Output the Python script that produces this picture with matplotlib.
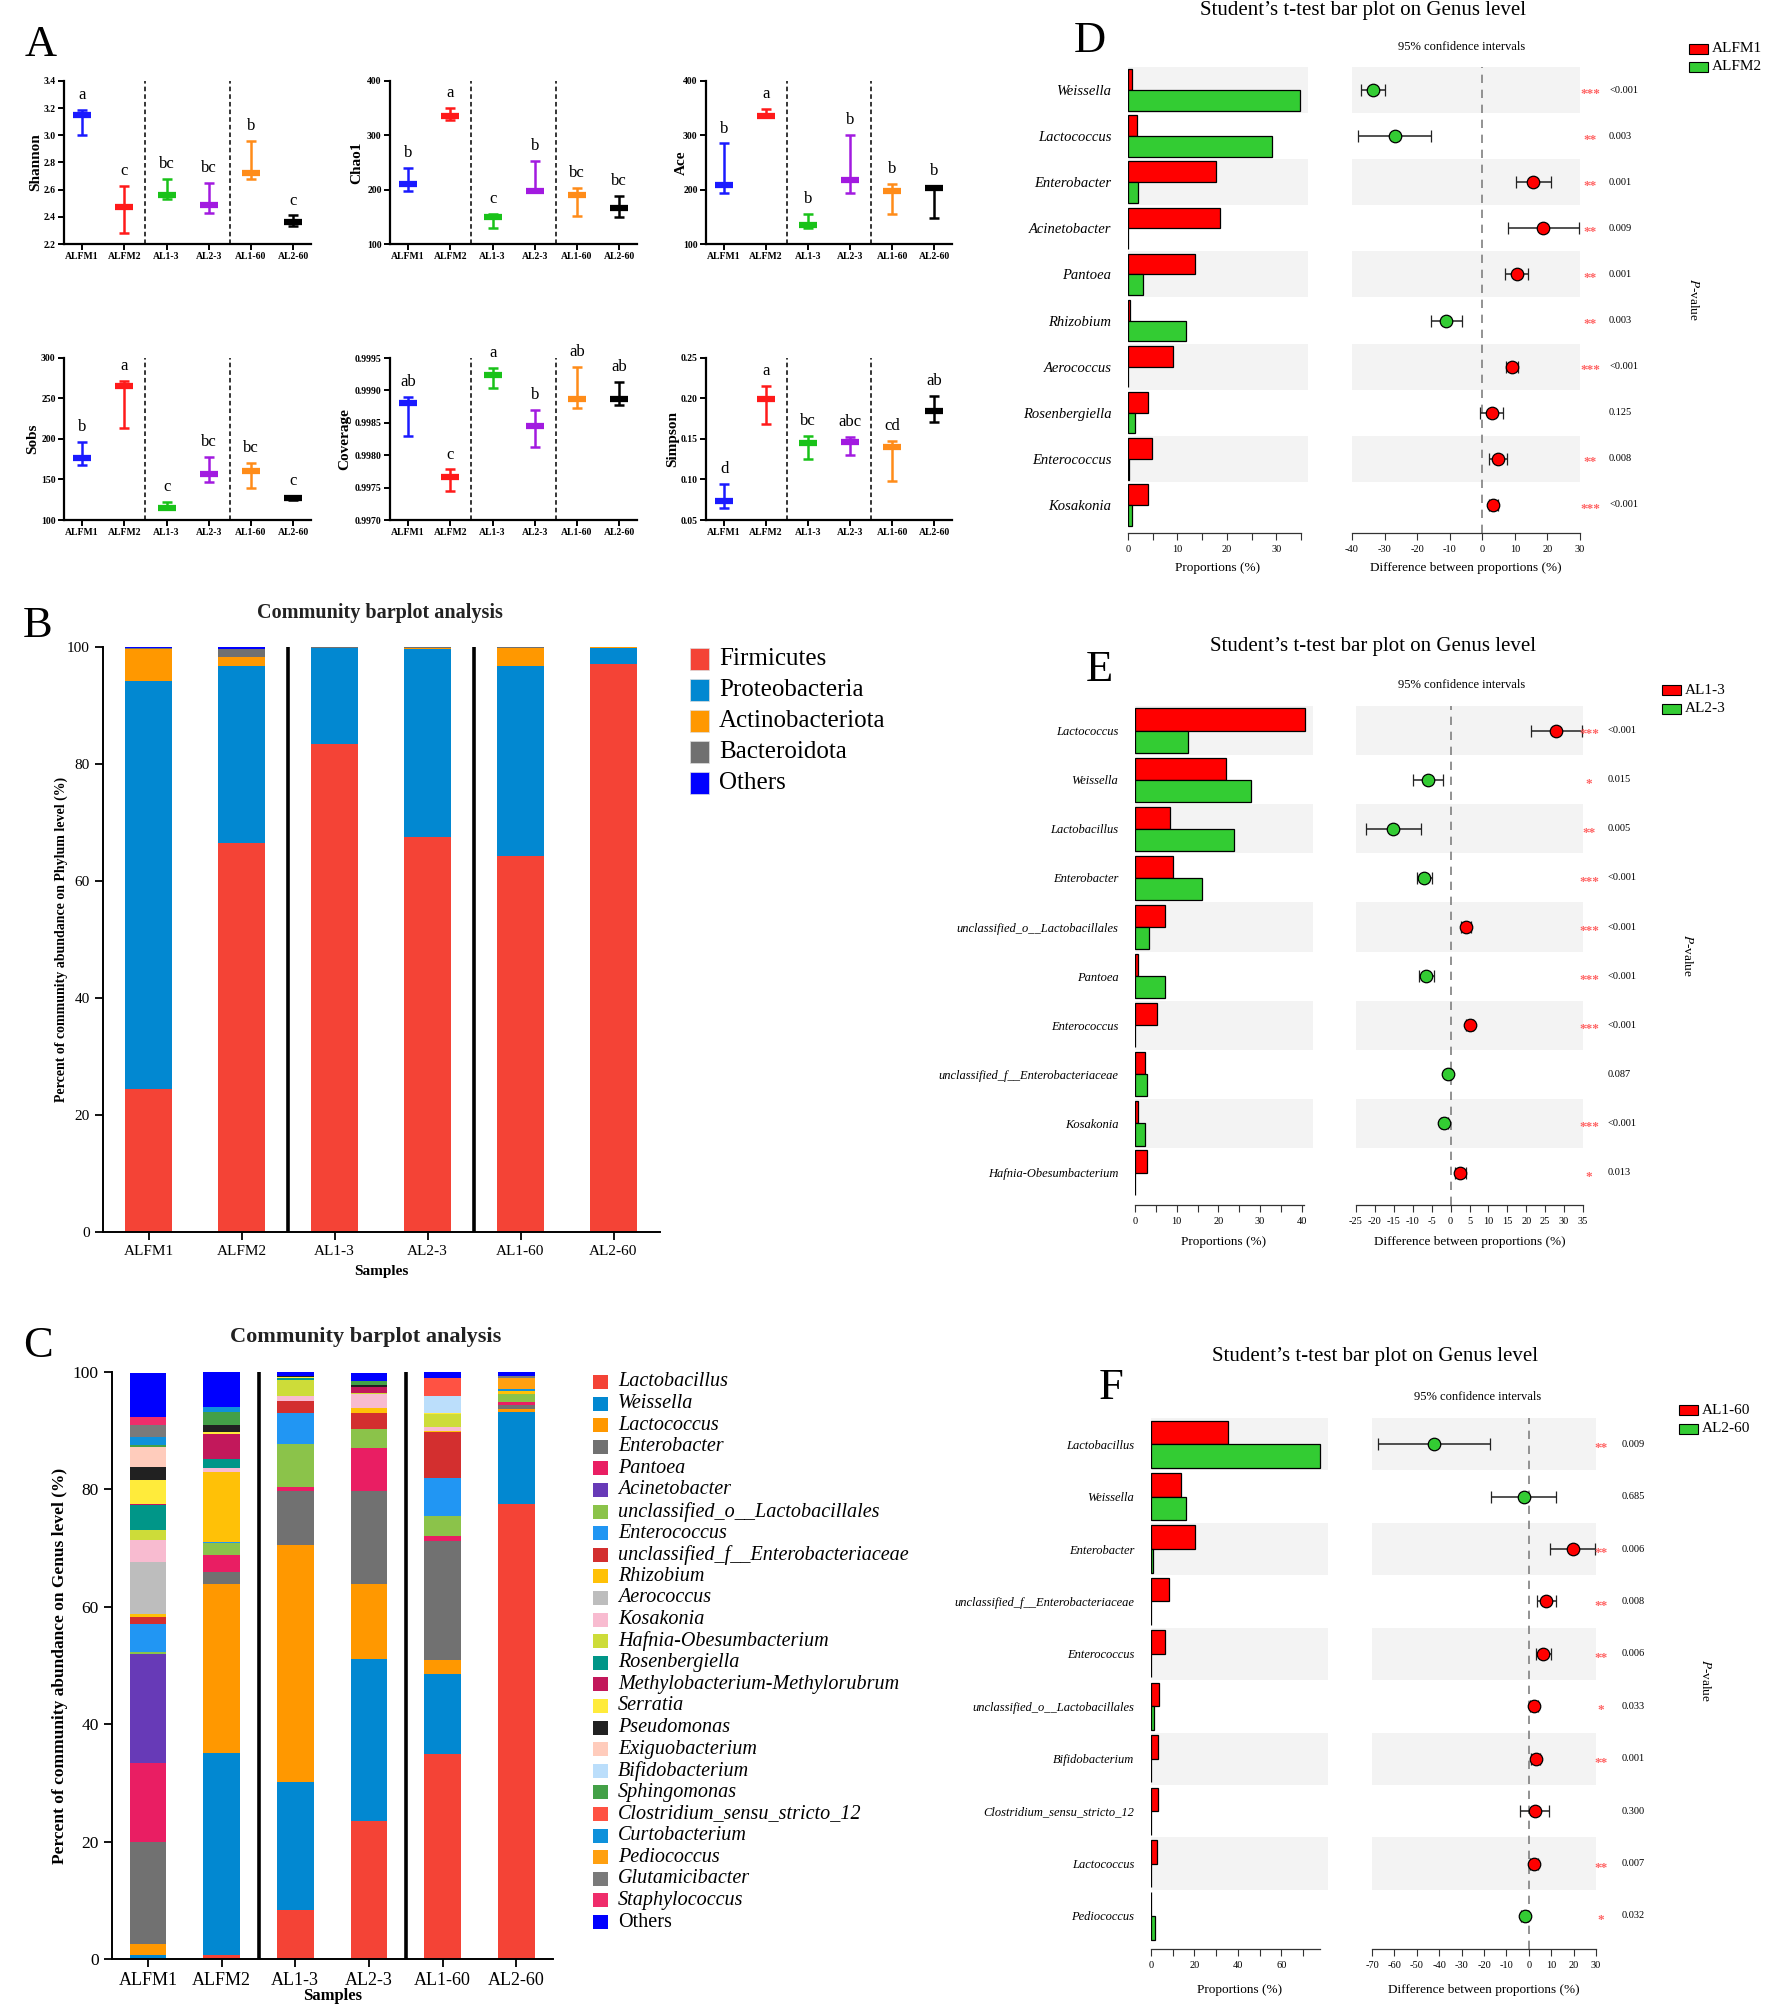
import numpy as np
import matplotlib
matplotlib.use("Agg")
import matplotlib.pyplot as plt
from matplotlib.patches import Rectangle
from matplotlib.transforms import blended_transform_factory

plt.rcParams['font.family'] = ['Liberation Serif', 'DejaVu Serif']
plt.rcParams['mathtext.fontset'] = 'stix'
plt.rcParams['axes.unicode_minus'] = False

W, H = 1777, 2010

# ---------------- data: panel A (alpha diversity) ----------------
samples = ['ALFM1', 'ALFM2', 'AL1-3', 'AL2-3', 'AL1-60', 'AL2-60']
group_colors = ['#1a1aff', '#ff1a1a', '#19c219', '#a21ae0', '#ff8c19', '#000000']

shannon_mid = [3.15, 2.47, 2.56, 2.49, 2.72, 2.36]
shannon_low = [3.00, 2.28, 2.53, 2.43, 2.68, 2.33]
shannon_high = [3.19, 2.63, 2.68, 2.65, 2.96, 2.41]
shannon_letters = ['a', 'c', 'bc', 'bc', 'b', 'c']

chao1_mid = [210, 335, 150, 198, 190, 167]
chao1_low = [197, 328, 130, 197, 152, 150]
chao1_high = [240, 350, 155, 252, 203, 188]
chao1_letters = ['b', 'a', 'c', 'b', 'bc', 'bc']

ace_mid = [208, 335, 135, 218, 198, 203]
ace_low = [193, 333, 130, 193, 155, 147]
ace_high = [285, 348, 155, 300, 210, 207]
ace_letters = ['b', 'a', 'b', 'b', 'b', 'b']

sobs_mid = [176, 265, 115, 157, 161, 127]
sobs_low = [168, 214, 113, 147, 139, 125]
sobs_high = [196, 272, 122, 178, 170, 130]
sobs_letters = ['b', 'a', 'c', 'bc', 'bc', 'c']

coverage_mid = [0.99880, 0.99767, 0.99923, 0.99845, 0.99887, 0.99887]
coverage_low = [0.99830, 0.99745, 0.99903, 0.99812, 0.99873, 0.99878]
coverage_high = [0.99890, 0.99778, 0.99934, 0.99870, 0.99936, 0.99913]
coverage_letters = ['ab', 'c', 'a', 'b', 'ab', 'ab']

simpson_mid = [0.074, 0.199, 0.145, 0.146, 0.140, 0.184]
simpson_low = [0.065, 0.169, 0.125, 0.130, 0.098, 0.171]
simpson_high = [0.095, 0.216, 0.154, 0.153, 0.148, 0.203]
simpson_letters = ['d', 'a', 'bc', 'abc', 'cd', 'ab']

# ---------------- data: panel B (phylum) ----------------
phyla = ['Firmicutes', 'Proteobacteria', 'Actinobacteriota', 'Bacteroidota', 'Others']
phylum_colors = ['#f44336', '#0288d1', '#ff9800', '#707070', '#0000ff']
firmicutes = [24.5, 66.5, 83.5, 67.5, 64.2, 97.1]
proteobacteria = [69.7, 30.2, 16.3, 32.2, 32.6, 2.7]
actinobacteriota = [5.4, 1.6, 0.1, 0.05, 3.1, 0.15]
bacteroidota = [0.3, 1.4, 0.05, 0.2, 0.05, 0.0]
phylum_others = [0.1, 0.3, 0.05, 0.05, 0.05, 0.05]

# ---------------- data: panel C (genus) ----------------
genera = ['Lactobacillus', 'Weissella', 'Lactococcus', 'Enterobacter', 'Pantoea',
          'Acinetobacter', 'unclassified_o__Lactobacillales', 'Enterococcus',
          'unclassified_f__Enterobacteriaceae', 'Rhizobium', 'Aerococcus', 'Kosakonia',
          'Hafnia-Obesumbacterium', 'Rosenbergiella', 'Methylobacterium-Methylorubrum',
          'Serratia', 'Pseudomonas', 'Exiguobacterium', 'Bifidobacterium', 'Sphingomonas',
          'Clostridium_sensu_stricto_12', 'Curtobacterium', 'Pediococcus',
          'Glutamicibacter', 'Staphylococcus', 'Others']
genus_colors = ['#f44336', '#0288d1', '#ff9800', '#717171', '#e91e63', '#673ab7',
                '#8bc34a', '#2196f3', '#d32f2f', '#ffc107', '#bdbdbd', '#f8bbd0',
                '#cddc39', '#009688', '#c2185b', '#ffeb3b', '#212121', '#ffccbc',
                '#bbdefb', '#43a047', '#ff5243', '#0e91db', '#ffa010', '#7a7a7a',
                '#ef2d6b', '#0000ff']
alfm1_genus = [0, 0.7, 1.8, 17.5, 13.4, 18.6, 0.3, 4.7, 1.3, 0.5, 8.8, 3.8, 1.7, 4.2, 0.2,
               4.1, 2.2, 3.4, 0, 0.3, 0, 1.4, 0, 2.1, 1.3, 7.6]
alfm2_genus = [0.7, 34.4, 28.8, 2.0, 2.9, 0, 2.0, 0.3, 0, 11.8, 0, 0.8, 0, 1.5, 4.3,
               0.2, 1.3, 0, 0, 2.2, 0, 0.8, 0, 0, 0, 6.1]
al1_3_genus = [8.3, 21.8, 40.5, 9.2, 0.6, 0, 7.4, 5.2, 2.1, 0, 0, 0.8, 2.8, 0.2, 0,
               0.3, 0.1, 0, 0, 0, 0, 0, 0, 0, 0, 0.7]
al2_3_genus = [23.5, 27.6, 12.7, 16.0, 7.2, 0, 3.3, 0, 2.7, 0.8, 0, 2.4, 0.3, 0, 1.0,
               0, 0.3, 0, 0, 0.6, 0, 0, 0, 0, 0, 1.5]
al1_60_genus = [35.0, 13.6, 2.3, 20.3, 0.8, 0, 3.5, 6.4, 7.9, 0.2, 0, 0.7, 2.1, 0, 0,
                0.2, 0, 0, 2.9, 0, 3.0, 0, 0, 0, 0, 1.2]
al2_60_genus = [77.5, 15.7, 0.5, 0.7, 0.5, 0, 1.4, 0, 0, 0.4, 0, 0, 0, 0, 0,
                0, 0, 0, 0, 0, 0, 0.35, 1.9, 0.4, 0, 0.6]

# ---------------- data: panels D, E, F (t-tests) ----------------
d_genera = ['Weissella', 'Lactococcus', 'Enterobacter', 'Acinetobacter', 'Pantoea',
            'Rhizobium', 'Aerococcus', 'Rosenbergiella', 'Enterococcus', 'Kosakonia']
d_group1 = [0.75, 1.9, 17.7, 18.7, 13.5, 0.5, 9.0, 4.1, 4.8, 4.0]
d_group2 = [34.7, 29.1, 2.0, 0.05, 3.0, 11.8, 0.05, 1.4, 0.3, 0.75]
d_diff = [-33.6, -26.9, 15.7, 18.7, 10.6, -11.0, 9.0, 2.9, 4.7, 3.3]
d_low = [-37.1, -38.1, 10.3, 7.9, 7.1, -15.7, 7.3, -0.7, 2.1, 2.0]
d_high = [-30.0, -15.6, 21.1, 29.6, 14.0, -6.3, 10.9, 6.4, 7.6, 4.7]
d_stars = ['***', '**', '**', '**', '**', '**', '***', '', '**', '***']
d_pvals = ['<0.001', '0.003', '0.001', '0.009', '0.001', '0.003', '<0.001', '0.125', '0.008', '<0.001']

e_genera = ['Lactococcus', 'Weissella', 'Lactobacillus', 'Enterobacter',
            'unclassified_o__Lactobacillales', 'Pantoea', 'Enterococcus',
            'unclassified_f__Enterobacteriaceae', 'Kosakonia', 'Hafnia-Obesumbacterium']
e_group1 = [40.7, 21.8, 8.5, 9.1, 7.3, 0.7, 5.3, 2.3, 0.8, 2.9]
e_group2 = [12.7, 27.8, 23.7, 16.1, 3.3, 7.2, 0.05, 2.8, 2.4, 0.05]
e_diff = [27.9, -6.0, -15.2, -7.1, 4.0, -6.5, 5.0, -0.6, -1.7, 2.4]
e_low = [21.3, -10.0, -22.4, -8.9, 2.7, -8.4, 4.2, -1.3, -2.6, 1.1]
e_high = [34.8, -2.0, -7.8, -5.0, 5.3, -4.5, 5.9, 0.0, -0.7, 4.2]
e_stars = ['***', '*', '**', '***', '***', '***', '***', '', '***', '*']
e_pvals = ['<0.001', '0.015', '0.005', '<0.001', '<0.001', '<0.001', '<0.001', '0.087', '<0.001', '0.013']

f_genera = ['Lactobacillus', 'Weissella', 'Enterobacter', 'unclassified_f__Enterobacteriaceae',
            'Enterococcus', 'unclassified_o__Lactobacillales', 'Bifidobacterium',
            'Clostridium_sensu_stricto_12', 'Lactococcus', 'Pediococcus']
f_group1 = [35.5, 13.8, 20.4, 8.2, 6.5, 3.7, 3.4, 3.0, 2.6, 0.05]
f_group2 = [77.6, 15.9, 0.9, 0.05, 0.05, 1.5, 0.05, 0.05, 0.1, 1.9]
f_diff = [-42.5, -2.3, 19.6, 7.9, 6.5, 2.1, 3.1, 2.9, 2.1, -1.9]
f_low = [-67.1, -16.7, 9.4, 3.5, 3.3, 0.4, 1.2, -3.8, 0.6, -3.5]
f_high = [-17.5, 12.3, 29.6, 12.3, 9.8, 4.0, 5.0, 9.2, 4.0, -0.2]
f_stars = ['**', '', '**', '**', '**', '*', '**', '', '**', '*']
f_pvals = ['0.009', '0.685', '0.006', '0.008', '0.006', '0.033', '0.001', '0.300', '0.007', '0.032']

fig = plt.figure(figsize=(W / 100, H / 100), dpi=100)


def rect(left, right, top, bottom):
    return [left / W, 1 - bottom / H, (right - left) / W, (bottom - top) / H]


def fxy(x, y):
    return x / W, 1 - y / H


def letter(x, y, s):
    fig.text(*fxy(x, y), s, fontsize=32, ha='center', va='center')


# ---------------- panel A ----------------
def draw_alpha(box, label_x, ylabel, mid, low, high, letters, ylim, step, fmt):
    ax = fig.add_axes(rect(*box))
    x = np.arange(len(samples))
    for i in range(len(samples)):
        c = group_colors[i]
        ax.errorbar(x[i], mid[i], yerr=[[mid[i] - low[i]], [high[i] - mid[i]]], fmt='none',
                    ecolor=c, elinewidth=1.8, capsize=3.8, capthick=1.8)
        ax.plot(x[i], mid[i], marker='_', ms=13, mew=4.5, color=c)
        ax.annotate(letters[i], (x[i], high[i]), xytext=(0, 5), textcoords='offset points',
                    ha='center', va='bottom', fontsize=12)
    for s in (1.5, 3.5):
        ax.axvline(s, color='k', ls=(0, (3, 2)), lw=1.1)
    ax.set_xlim(-0.43, 5.42)
    ax.set_ylim(*ylim)
    ticks = np.arange(ylim[0], ylim[1] + step / 2, step)
    ax.set_yticks(ticks)
    ax.set_yticklabels([fmt % t for t in ticks], fontsize=7, fontweight='bold')
    ax.set_xticks(x)
    ax.set_xticklabels(samples, fontsize=7, fontweight='bold')
    for s in ('top', 'right'):
        ax.spines[s].set_visible(False)
    for s in ('left', 'bottom'):
        ax.spines[s].set_linewidth(1.6)
    ax.tick_params(length=4, width=1.4, pad=2)
    ax.set_ylabel(ylabel, fontsize=11, fontweight='bold')
    ax.yaxis.label.set_va('center')
    ax.yaxis.set_label_coords((label_x - box[0]) / (box[1] - box[0]), 0.5)


row1, row2 = (81, 244), (358, 520)
cols = [(64, 311), (390, 637), (706, 952)]
draw_alpha((*cols[0], *row1), 36, 'Shannon', shannon_mid, shannon_low, shannon_high,
           shannon_letters, (2.2, 3.4), 0.2, '%.1f')
draw_alpha((*cols[1], *row1), 357, 'Chao1', chao1_mid, chao1_low, chao1_high,
           chao1_letters, (100, 400), 100, '%d')
draw_alpha((*cols[2], *row1), 681, 'Ace', ace_mid, ace_low, ace_high,
           ace_letters, (100, 400), 100, '%d')
draw_alpha((*cols[0], *row2), 33, 'Sobs', sobs_mid, sobs_low, sobs_high,
           sobs_letters, (100, 300), 50, '%d')
draw_alpha((*cols[1], *row2), 345, 'Coverage', coverage_mid, coverage_low, coverage_high,
           coverage_letters, (0.997, 0.9995), 0.0005, '%.4f')
draw_alpha((*cols[2], *row2), 673, 'Simpson', simpson_mid, simpson_low, simpson_high,
           simpson_letters, (0.05, 0.25), 0.05, '%.2f')
letter(41, 45, 'A')


# ---------------- panels B and C ----------------
def draw_stack(box, layers, colors, title, title_xy, title_size, ylabel, ylabel_x,
               ylabel_size, tick_size, xtick_size, samples_y, samples_size):
    ax = fig.add_axes(rect(*box))
    x = np.arange(len(samples))
    bottom = np.zeros(len(samples))
    for vals, col in zip(layers, colors):
        vals = np.asarray(vals, dtype=float)
        ax.bar(x, vals, 0.5, bottom=bottom, color=col, lw=0)
        bottom += vals
    for s in (1.5, 3.5):
        ax.plot([s, s], [0, 100], color='k', lw=2.6, solid_capstyle='butt')
    ax.set_xlim(-0.49, 5.5)
    ax.set_ylim(0, 100)
    ax.set_yticks(np.arange(0, 101, 20))
    ax.set_xticks(x)
    ax.set_xticklabels(samples, fontsize=xtick_size)
    ax.tick_params(axis='y', labelsize=tick_size)
    ax.tick_params(length=6, width=1.3)
    for s in ('top', 'right'):
        ax.spines[s].set_visible(False)
    for s in ('left', 'bottom'):
        ax.spines[s].set_linewidth(1.4)
    ax.set_ylabel(ylabel, fontsize=ylabel_size, fontweight='bold')
    ax.yaxis.set_label_coords((ylabel_x - box[0]) / (box[1] - box[0]), 0.5)
    ax.yaxis.label.set_va('center')
    ax.set_xlabel('Samples', fontsize=samples_size, fontweight='bold')
    ax.xaxis.label.set_va('center')
    ax.xaxis.set_label_coords(0.5, (box[3] - samples_y) / (box[3] - box[2]))
    fig.text(*fxy(*title_xy), title, fontsize=title_size, fontweight='bold',
             ha='center', va='center', color='#222222')
    return ax


draw_stack((103, 660, 647, 1232),
           [firmicutes, proteobacteria, actinobacteriota, bacteroidota, phylum_others],
           phylum_colors, 'Community barplot analysis', (380, 613), 14.5,
           'Percent of community abundance on Phylum level (%)', 61, 10, 11, 11, 1272, 11)
letter(38, 626, 'B')
for i, (name, col) in enumerate(zip(phyla, phylum_colors)):
    yc = 659 + 31 * i
    fig.add_artist(Rectangle(fxy(690, yc + 11), 19 / W, 22 / H, facecolor=col,
                             edgecolor='#dddddd', lw=0.5, transform=fig.transFigure))
    fig.text(*fxy(719, yc), name, fontsize=18, ha='left', va='center')

genus_table = np.array([alfm1_genus, alfm2_genus, al1_3_genus, al2_3_genus,
                        al1_60_genus, al2_60_genus]).T
draw_stack((112, 553, 1372, 1959), genus_table, genus_colors,
           'Community barplot analysis', (366, 1337), 16,
           'Percent of community abundance on Genus level (%)', 60, 12.5, 12.5, 13, 1996, 12)
letter(38, 1346, 'C')
for i, (name, col) in enumerate(zip(genera, genus_colors)):
    yc = 1382 + 21.6 * i
    fig.add_artist(Rectangle(fxy(593, yc + 7), 15 / W, 14 / H, facecolor=col,
                             lw=0, transform=fig.transFigure))
    fig.text(*fxy(618, yc), name, fontsize=14.5, ha='left', va='center',
             style='normal' if name == 'Others' else 'italic')


# ---------------- panels D, E, F ----------------
def draw_ttest(lay, names, g1, g2, diff, low, high, stars, pvals, groups):
    n = len(names)
    y = np.arange(n)
    axl = fig.add_axes(rect(lay['left'][0], lay['left'][1], lay['top'], lay['bottom']))
    axr = fig.add_axes(rect(lay['right'][0], lay['right'][1], lay['top'], lay['bottom']))
    for ax in (axl, axr):
        for i in y[::2]:
            ax.axhspan(i - 0.5, i + 0.5, color='#f3f3f3', lw=0, zorder=0)
        ax.set_ylim(lay['ybottom'], -0.5)
        for s in ('top', 'right', 'left'):
            ax.spines[s].set_visible(False)
        ax.spines['bottom'].set_linewidth(0.9)
        ax.spines['bottom'].set_color('#333333')
        ax.tick_params(axis='x', which='both', labelsize=7.5, length=5, width=0.8,
                       color='#333333')
    axl.barh(y - 0.225, g1, height=0.45, color='#ff0000', edgecolor='k', lw=0.9)
    axl.barh(y + 0.225, g2, height=0.45, color='#33cc33', edgecolor='k', lw=0.9)
    axl.set_xlim(0, lay['lxmax'])
    axl.spines['bottom'].set_bounds(0, lay['lspine'])
    axl.set_xticks(np.arange(0, lay['lspine'] + 0.01, lay['lmajor']))
    axl.set_xticks(np.arange(0, lay['lspine'] + 0.01, lay['lminor']), minor=True)
    axl.set_yticks(y)
    axl.set_yticklabels(names, style='italic', fontsize=lay['name_size'])
    axl.tick_params(axis='y', length=0, pad=12)

    axr.axvline(0, color='#808080', ls=(0, (5, 4)), lw=1.2, zorder=1)
    for i in range(n):
        c = '#ff0000' if diff[i] > 0 else '#33cc33'
        axr.errorbar(diff[i], y[i], xerr=[[diff[i] - low[i]], [high[i] - diff[i]]],
                     fmt='o', color=c, mec='k', mew=0.9, ms=9, ecolor='#222222',
                     elinewidth=1.1, capsize=4, capthick=1.1, zorder=3)
    axr.set_xlim(*lay['rxlim'])
    axr.set_xticks(np.arange(lay['rxlim'][0], lay['rxlim'][1] + 0.01, lay['rmajor']))
    axr.set_xticklabels(['%d' % t for t in axr.get_xticks()])
    axr.set_yticks([])

    rl, rr = lay['right']
    tr = blended_transform_factory(axr.transAxes, axr.transData)
    for i in range(n):
        axr.text((lay['star_x'] - rl) / (rr - rl), y[i] + 0.08, stars[i], transform=tr,
                 ha='center', va='center', fontsize=9.5, fontweight='bold', color='#ff6262')
        axr.text((lay['p_x'] - rl) / (rr - rl), y[i], pvals[i], transform=tr,
                 ha='left', va='center', fontsize=7.5)

    span = lay['bottom'] - lay['top']
    for ax, lab in ((axl, 'Proportions (%)'), (axr, 'Difference between proportions (%)')):
        ax.set_xlabel(lab, fontsize=9.5)
        ax.xaxis.label.set_va('center')
        ax.xaxis.set_label_coords(0.5, (lay['bottom'] - lay['xlabel_y']) / span)

    fig.text(*fxy(*lay['title']), 'Student\u2019s t-test bar plot on Genus level',
             fontsize=15, ha='center', va='center')
    letter(*lay['letter'])
    fig.text(*fxy(*lay['ci']), '95% confidence intervals', fontsize=9,
             ha='center', va='center')
    fig.text(*fxy(*lay['pv']), '$P$-value', rotation=270, fontsize=9.5,
             ha='center', va='center')
    for k, (g, col) in enumerate(zip(groups, ['#ff0000', '#33cc33'])):
        yc = lay['leg_y'][k]
        fig.add_artist(Rectangle(fxy(lay['leg_box'], yc + 5), 19 / W, 10 / H,
                                 facecolor=col, edgecolor='k', lw=0.8,
                                 transform=fig.transFigure))
        fig.text(*fxy(lay['leg_box'] + 23, yc), g, fontsize=11, ha='left', va='center')


layout_d = dict(left=(1128, 1308), right=(1352, 1580), top=67, bottom=533, ybottom=9.61,
                lxmax=36.4, lspine=35, lmajor=10, lminor=5, rxlim=(-40, 30), rmajor=10,
                star_x=1590, p_x=1609, xlabel_y=568, title=(1363, 10), name_size=10.5,
                letter=(1090, 41, 'D'), ci=(1462, 47), pv=(1693, 299),
                leg_box=1689, leg_y=(49, 67))
layout_e = dict(left=(1135, 1313), right=(1356, 1583), top=706, bottom=1205, ybottom=9.66,
                lxmax=42.7, lspine=40.6, lmajor=10, lminor=5, rxlim=(-25, 35), rmajor=5,
                star_x=1589, p_x=1608, xlabel_y=1242, title=(1373, 647), name_size=9,
                letter=(1099, 670, 'E'), ci=(1462, 685), pv=(1688, 955),
                leg_box=1662, leg_y=(690, 709))
layout_f = dict(left=(1151, 1328), right=(1372, 1596), top=1418, bottom=1949, ybottom=9.63,
                lxmax=81.5, lspine=77.6, lmajor=20, lminor=10, rxlim=(-70, 30), rmajor=10,
                star_x=1601, p_x=1622, xlabel_y=1990, title=(1375, 1356), name_size=9,
                letter=(1111, 1388, 'F'), ci=(1478, 1397), pv=(1706, 1680),
                leg_box=1679, leg_y=(1410, 1429))

draw_ttest(layout_d, d_genera, d_group1, d_group2, d_diff, d_low, d_high, d_stars,
           d_pvals, ('ALFM1', 'ALFM2'))
draw_ttest(layout_e, e_genera, e_group1, e_group2, e_diff, e_low, e_high, e_stars,
           e_pvals, ('AL1-3', 'AL2-3'))
draw_ttest(layout_f, f_genera, f_group1, f_group2, f_diff, f_low, f_high, f_stars,
           f_pvals, ('AL1-60', 'AL2-60'))

fig.savefig('out.png', dpi=100)
